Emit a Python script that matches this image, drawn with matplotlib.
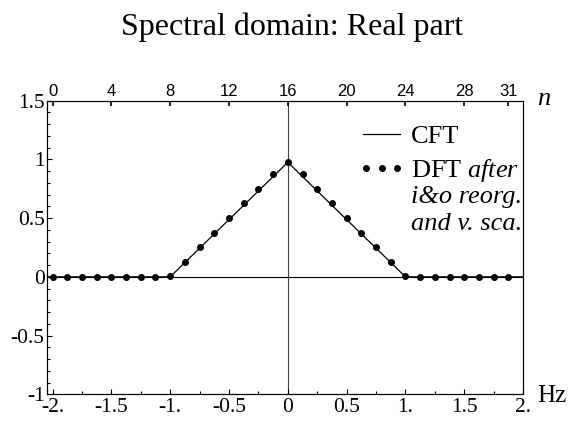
import matplotlib
matplotlib.use("Agg")
import matplotlib.pyplot as plt
from matplotlib.lines import Line2D
from matplotlib.legend_handler import HandlerLine2D

plt.rcParams["font.family"] = ["Liberation Serif", "DejaVu Serif"]
plt.rcParams["mathtext.fontset"] = "custom"
plt.rcParams["mathtext.rm"] = "Liberation Serif"
plt.rcParams["mathtext.it"] = "Liberation Serif:italic"

# continuous transform (triangle)
cft_hz = [-2.05, -1.0, 0.0, 1.0, 2.0]
cft_val = [0.0, 0.0, 0.975, 0.0, 0.0]

# DFT samples, n = 0..31 -> -2 .. 1.875 Hz
dft_n = list(range(32))
dft_val = [0, 0, 0, 0, 0, 0, 0, 0,
           0.01, 0.128, 0.253, 0.375, 0.503, 0.626, 0.748, 0.872,
           0.975, 0.872, 0.748, 0.626, 0.503, 0.375, 0.253, 0.128,
           0.01, 0, 0, 0, 0, 0, 0, 0]
DF = 0.125
F0 = -2.0

hz_ticks = [-2, -1.5, -1, -0.5, 0, 0.5, 1, 1.5, 2]
hz_labels = ["-2.", "-1.5", "-1.", "-0.5", "0", "0.5", "1.", "1.5", "2."]
y_ticks = [-1, -0.5, 0, 0.5, 1, 1.5]
y_labels = ["-1", "-0.5", "0", "0.5", "1", "1.5"]
n_ticks = [0, 4, 8, 12, 16, 20, 24, 28, 31]

fig = plt.figure(figsize=(5.71, 4.21), dpi=100)
ax = fig.add_axes([0.0818, 0.0634, 0.8342, 0.6976])

dft_hz = [F0 + DF * n for n in dft_n]
ax.axhline(0, color="black", lw=0.8, zorder=1)
ax.axvline(0, color="#444444", lw=0.8, zorder=1)
ax.plot(cft_hz, cft_val, color="black", lw=0.9, zorder=2)
ax.plot(dft_hz, dft_val, "o", color="black", ms=4.0, zorder=3)

ax.set_xlim(-2.05, 2.0)
ax.set_ylim(-1, 1.5)
ax.set_xticks(hz_ticks, hz_labels)
ax.set_xticks([t / 4 for t in range(-8, 9)], minor=True)
ax.set_yticks(y_ticks, y_labels)
ax.set_yticks([t / 10 for t in range(-10, 16)], minor=True)
ax.tick_params(which="both", direction="in", labelsize=15.5, pad=1.5, width=0.8)
ax.tick_params(axis="x", which="both", pad=2.5)
ax.tick_params(which="major", length=3.5)
ax.tick_params(which="minor", length=2)
for s in ax.spines.values():
    s.set_linewidth(0.8)
    s.set_color("#333333")

top = ax.twiny()
top.set_xlim((-2.05 - F0) / DF, (2.0 - F0) / DF)
top.set_xticks(n_ticks)
top.tick_params(direction="in", length=3.5, width=1.2, pad=1.5, labelsize=12)
for lab in top.get_xticklabels():
    lab.set_family("Liberation Sans")

ax.text(1.029, -0.025, "Hz", transform=ax.transAxes, fontsize=18,
        va="baseline", ha="left", clip_on=False)
ax.text(1.029, 0.985, "n", transform=ax.transAxes, fontsize=19,
        style="italic", va="baseline", ha="left", clip_on=False)

h_cft = Line2D([], [], color="black", lw=0.9)
h_dft = Line2D([], [], ls="none", marker="o", color="black", ms=4.0)
ax.legend([h_cft, h_dft], ["CFT", r"DFT $\mathit{after}$"],
          handler_map={h_cft: HandlerLine2D(marker_pad=0.1, numpoints=2),
                       h_dft: HandlerLine2D(marker_pad=0.195, numpoints=3)},
          loc="upper left", bbox_to_anchor=(0.6586, 0.917),
          frameon=False, fontsize=19, handlelength=1.6, handletextpad=0.3,
          labelspacing=0.32, borderpad=0, borderaxespad=0)
ax.text(0.764, 0.6516, "i&o reorg.", transform=ax.transAxes, fontsize=19,
        style="italic", va="baseline", ha="left")
ax.text(0.764, 0.560, "and v. sca.", transform=ax.transAxes, fontsize=19,
        style="italic", va="baseline", ha="left")

fig.text(0.511, 1 - 35 / 421, "Spectral domain: Real part", fontsize=23,
         ha="center", va="baseline")

fig.savefig("out.png", dpi=100)
